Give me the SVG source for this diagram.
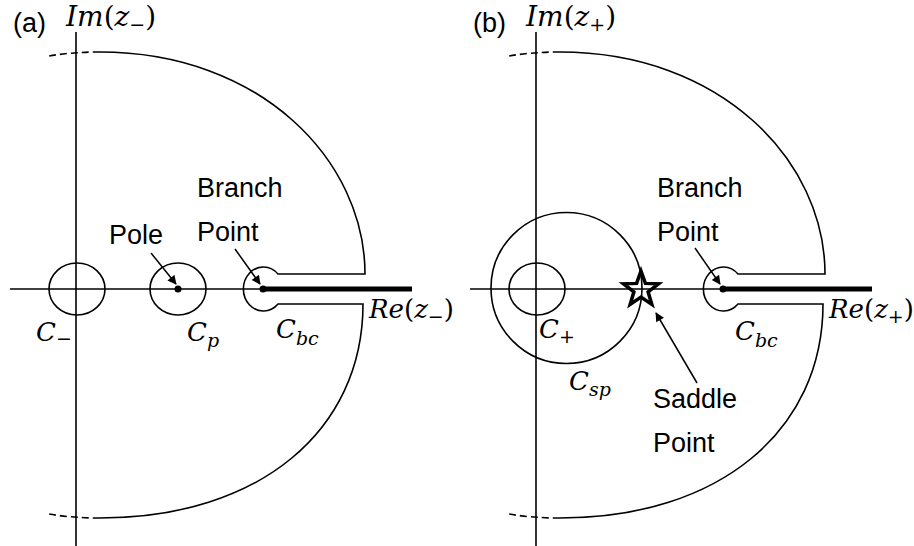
<svg xmlns="http://www.w3.org/2000/svg" width="914" height="546" viewBox="0 0 914 546">
<defs>
<marker id="ah" viewBox="0 0 10 10" refX="9" refY="5" markerWidth="10" markerHeight="9" markerUnits="userSpaceOnUse" orient="auto">
<path d="M0,0 L10,5 L0,10 Z" fill="#000"/>
</marker>
</defs>
<style>
.ln{fill:none;stroke:#000;stroke-width:1.6}
.thick{fill:none;stroke:#000;stroke-width:5}
.dash{fill:none;stroke:#000;stroke-width:1.6;stroke-dasharray:7 4}
.arr{fill:none;stroke:#000;stroke-width:1.5;marker-end:url(#ah)}
.lbl{font-family:"Liberation Sans",Arial,sans-serif;font-size:27px;fill:#000}
.math{font-family:"DejaVu Serif","Liberation Serif",serif;font-size:26px;fill:#000}
.big{font-size:28px}
.it{font-style:italic}
.sub{font-size:19px}
</style>
<rect width="914" height="546" fill="#fff"/>

<!-- Panel (a) -->
<g id="panel-a-axes">
<line class="ln" x1="76" y1="32" x2="76" y2="546"/>
<line class="ln" x1="10" y1="289" x2="412" y2="289"/>
<line class="thick" x1="263" y1="289" x2="412" y2="289"/>
</g>
<g id="panel-a-contour">
<path class="ln" d="M100,52 C260,52 365,160 365,274 L278,274 A20 22 0 1 0 278,304 L363,304 C363,430 260,518 100,518"/>
<path class="dash" d="M100,52 Q72,52 49,56"/>
<path class="dash" d="M100,518 Q72,518 49,514"/>
</g>
<g id="a-cminus"><ellipse class="ln" cx="77" cy="289" rx="28" ry="26"/></g>
<g id="a-cp"><ellipse class="ln" cx="178" cy="289" rx="28" ry="26"/><circle cx="178" cy="289" r="3.5"/></g>
<g id="a-branch"><circle cx="263" cy="289" r="3.5"/></g>
<g id="a-labels">
<text class="lbl" x="13" y="32" font-size="27">(a)</text>
<text class="math big" x="66" y="26"><tspan class="it">Im</tspan>(<tspan class="it">z</tspan><tspan class="sub" dy="5">−</tspan><tspan dy="-5">)</tspan></text>
<text class="lbl" x="197" y="197">Branch</text>
<text class="lbl" x="197" y="241">Point</text>
<text class="lbl" x="109" y="244">Pole</text>
<text class="math" x="369" y="318"><tspan class="it">Re</tspan>(<tspan class="it">z</tspan><tspan class="sub" dy="5">−</tspan><tspan dy="-5">)</tspan></text>
<text class="math it" x="36" y="341">C<tspan class="sub" dy="4">−</tspan></text>
<text class="math it" x="187" y="341">C<tspan class="sub" dy="6">p</tspan></text>
<text class="math it" x="276" y="338">C<tspan class="sub" dy="7">bc</tspan></text>
</g>
<g id="a-connectors">
<line class="arr" x1="151" y1="253" x2="176" y2="284"/>
<line class="arr" x1="235" y1="249" x2="260" y2="284"/>
</g>

<!-- Panel (b) -->
<g id="panel-b-axes">
<line class="ln" x1="536" y1="32" x2="536" y2="546"/>
<line class="ln" x1="470" y1="289" x2="872" y2="289"/>
<line class="thick" x1="723" y1="289" x2="872" y2="289"/>
</g>
<g id="panel-b-contour">
<path class="ln" d="M560,52 C720,52 825,160 825,274 L738,274 A20 22 0 1 0 738,304 L823,304 C823,430 720,518 560,518"/>
<path class="dash" d="M560,52 Q532,52 509,56"/>
<path class="dash" d="M560,518 Q532,518 509,514"/>
</g>
<g id="b-cplus"><ellipse class="ln" cx="537" cy="289" rx="28" ry="26"/></g>
<g id="b-csp"><circle class="ln" cx="566.5" cy="288" r="75.5"/></g>
<g id="b-saddle"><path d="M641,271 L645.4,283.4 L658.5,283.8 L648.1,291.8 L651.8,304.4 L641,297 L630.2,304.4 L633.9,291.8 L623.5,283.8 L636.6,283.4 Z" fill="none" stroke="#000" stroke-width="3.5" stroke-linejoin="miter"/></g>
<g id="b-branch"><circle cx="723" cy="289" r="3.5"/></g>
<g id="b-labels">
<text class="lbl" x="473" y="32" font-size="27">(b)</text>
<text class="math big" x="526" y="26"><tspan class="it">Im</tspan>(<tspan class="it">z</tspan><tspan class="sub" dy="5">+</tspan><tspan dy="-5">)</tspan></text>
<text class="lbl" x="657" y="197">Branch</text>
<text class="lbl" x="657" y="241">Point</text>
<text class="lbl" x="653" y="408">Saddle</text>
<text class="lbl" x="653" y="452">Point</text>
<text class="math" x="829" y="318"><tspan class="it">Re</tspan>(<tspan class="it">z</tspan><tspan class="sub" dy="5">+</tspan><tspan dy="-5">)</tspan></text>
<text class="math it" x="539" y="338">C<tspan class="sub" dy="5">+</tspan></text>
<text class="math it" x="569" y="390">C<tspan class="sub" dy="6">sp</tspan></text>
<text class="math it" x="735" y="340">C<tspan class="sub" dy="7">bc</tspan></text>
</g>
<g id="b-connectors">
<line class="arr" x1="695" y1="248" x2="720" y2="284"/>
<line class="arr" x1="697" y1="383" x2="656" y2="313"/>
</g>
</svg>
